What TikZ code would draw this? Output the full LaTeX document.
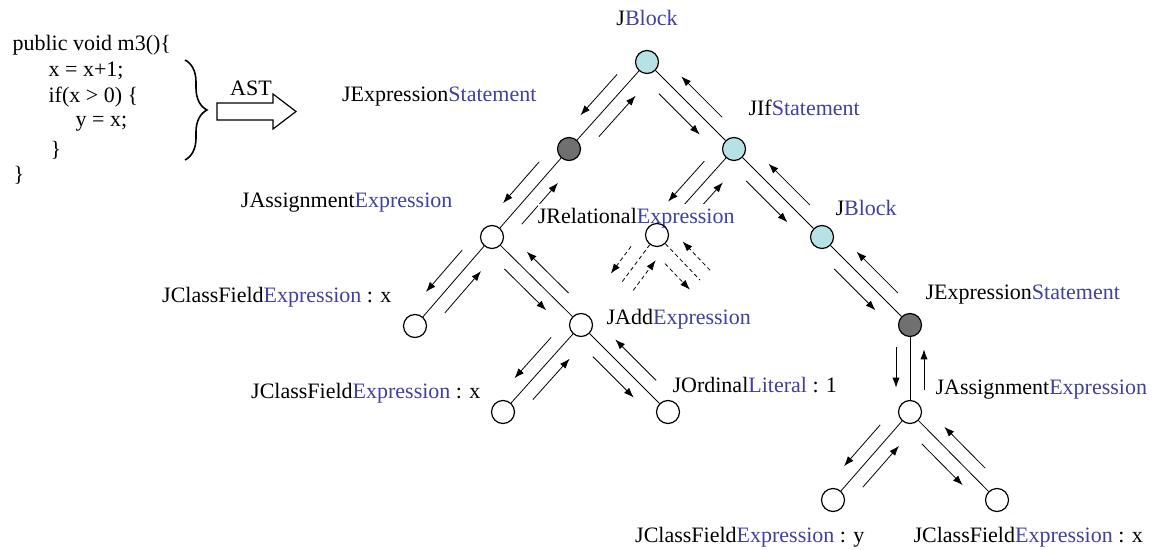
\documentclass[tikz,border=0pt]{standalone}
\usepackage{fontspec}
\setmainfont{Liberation Serif}
\usepackage{tikz}
\usetikzlibrary{positioning,arrows.meta,calc,decorations.pathreplacing,backgrounds}

\definecolor{kwblue}{RGB}{64,64,160}
\definecolor{blockcyan}{RGB}{182,226,230}
\definecolor{stmtgray}{RGB}{112,112,112}

\begin{document}
\begin{tikzpicture}[x=0.5pt,y=-0.5pt,on grid,
  font=\fontsize{11}{13}\selectfont,
  line width=0.6pt,
  >={Latex[length=5pt,width=3.6pt]},
  astnode/.style={circle,draw,minimum size=11.5pt,inner sep=0pt},
  blocknode/.style={astnode,fill=blockcyan},
  stmtnode/.style={astnode,fill=stmtgray},
  lbl/.style={inner sep=0pt},
  codeline/.style={inner sep=0pt,anchor=west},
  skipped/.style={dash pattern=on 2pt off 1.5pt}]

  \useasboundingbox (0,0) rectangle (1154,550);

  % source code
  \node[codeline] (code1) at (12,45) {public void m3()\{};
  \node[codeline] (code2) at (48,71) {x = x+1;};
  \node[codeline] (code3) at (48,97) {if(x > 0) \{};
  \node[codeline] (code4) at (75,124) {y = x;};
  \node[codeline] (code5) at (50,150) {\}};
  \node[codeline] (code6) at (13,175) {\}};

  \draw[decorate,decoration={brace,amplitude=11pt},line width=0.8pt] (185,60) -- (185,160);
  \draw (217,103) -- (273,103) -- (273,94) -- (296,111.5) -- (273,129) -- (273,120) -- (217,120) -- cycle;
  \node[lbl] (ast) at (251,88) {AST};

  % tree
  \node[blocknode] (root) at (647,62) {};
  \node[stmtnode] (es1) [below left=43.5pt and 39pt of root] {};
  \node[blocknode] (if1) [below right=43.5pt and 43.5pt of root] {};
  \node[astnode] (asg1) [below left=44pt and 38.5pt of es1] {};
  \node[astnode] (rel) [below left=43pt and 38.5pt of if1] {};
  \node[blocknode] (blk2) [below right=44pt and 44pt of if1] {};
  \node[astnode] (cf1) [below left=44.5pt and 38.5pt of asg1] {};
  \node[astnode] (add) [below right=44pt and 44.5pt of asg1] {};
  \node[astnode] (cf2) [below left=43.5pt and 39pt of add] {};
  \node[astnode] (ord) [below right=43.5pt and 43.5pt of add] {};
  \node[stmtnode] (es2) [below right=44pt and 44pt of blk2] {};
  \node[astnode] (asg2) [below=43.5pt of es2] {};
  \node[astnode] (cfy) [below left=44pt and 38.5pt of asg2] {};
  \node[astnode] (cfx) [below right=44pt and 43.5pt of asg2] {};

  \coordinate (relL) at ($(rel)+(-35,47)$);
  \coordinate (relR) at ($(rel)+(43,45)$);

  \begin{scope}[on background layer]
    % edges with visiting arrows
    \foreach \p/\c in {root/es1, root/if1, es1/asg1, if1/rel, if1/blk2, asg1/cf1, asg1/add,
                       add/cf2, add/ord, blk2/es2, es2/asg2, asg2/cfy, asg2/cfx} {
      \draw (\p) -- (\c);
      \draw[->] ($(\p)!.25!(\c)!7pt!-90:(\c)$) -- ($(\p)!.72!(\c)!7pt!-90:(\c)$);
      \draw[->] ($(\c)!.25!(\p)!7pt!-90:(\p)$) -- ($(\c)!.72!(\p)!7pt!-90:(\p)$);
    }

    % skipped subtrees
    \foreach \c in {relL, relR} {
      \draw[skipped] (rel) -- (\c);
      \draw[->,skipped] ($(rel)!.42!(\c)!7pt!-90:(\c)$) -- ($(\c)!7pt!90:(rel)$);
      \draw[->,skipped] ($(\c)!7pt!-90:(rel)$) -- ($(\c)!.64!(rel)!7pt!-90:(rel)$);
    }

    \node[lbl,anchor=east,fill=white,inner ysep=2pt] (t-rel) at ($(rel)+(78,-17)$) {JRelational\textcolor{kwblue}{Expression}};
  \end{scope}

  % labels
  \node[lbl] (t-root) at ($(root)+(0,-44)$) {J\textcolor{kwblue}{Block}};
  \node[lbl,anchor=east] (t-es1) at ($(es1)+(-32,-52)$) {JExpression\textcolor{kwblue}{Statement}};
  \node[lbl,anchor=west] (t-if1) at ($(if1)+(14,-41)$) {JIf\textcolor{kwblue}{Statement}};
  \node[lbl,anchor=east] (t-asg1) at ($(asg1)+(-39,-34)$) {JAssignment\textcolor{kwblue}{Expression}};
  \node[lbl,anchor=west] (t-blk2) at ($(blk2)+(13,-29)$) {J\textcolor{kwblue}{Block}};
  \node[lbl,anchor=east] (t-cf1) at ($(cf1)+(-23,-29)$) {JClassField\textcolor{kwblue}{Expression} : x};
  \node[lbl,anchor=west] (t-add) at ($(add)+(25,-6)$) {JAdd\textcolor{kwblue}{Expression}};
  \node[lbl,anchor=east] (t-cf2) at ($(cf2)+(-22,-19)$) {JClassField\textcolor{kwblue}{Expression} : x};
  \node[lbl,anchor=west] (t-ord) at ($(ord)+(4,-27)$) {JOrdinal\textcolor{kwblue}{Literal} : 1};
  \node[lbl,anchor=west] (t-es2) at ($(es2)+(15,-30)$) {JExpression\textcolor{kwblue}{Statement}};
  \node[lbl,anchor=west] (t-asg2) at ($(asg2)+(25,-22)$) {JAssignment\textcolor{kwblue}{Expression}};
  \node[lbl,anchor=east] (t-cfy) at ($(cfy)+(32,37)$) {JClassField\textcolor{kwblue}{Expression} : y};
  \node[lbl,anchor=west] (t-cfx) at ($(cfx)+(-84,37)$) {JClassField\textcolor{kwblue}{Expression} : x};

\end{tikzpicture}
\end{document}
